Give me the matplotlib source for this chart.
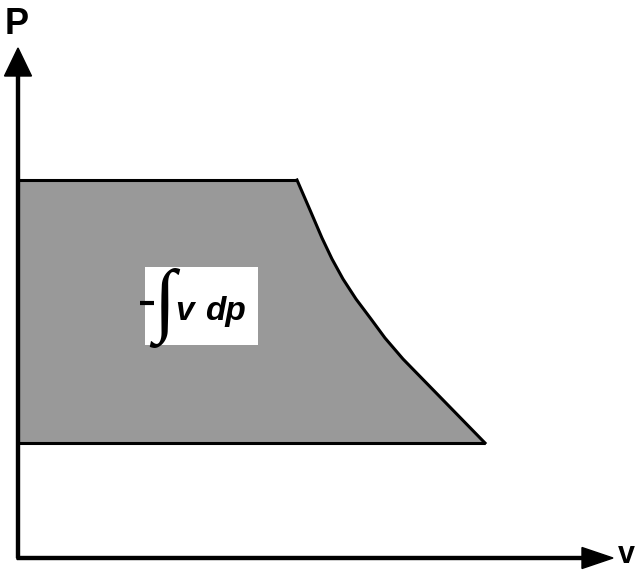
import matplotlib
matplotlib.use("Agg")
import matplotlib.pyplot as plt
from matplotlib.patches import Rectangle

# process path in the p-v plane (arbitrary units)
v_top = [0.0, 2.79]
p_top = [3.78, 3.78]
v_curve = [2.79, 2.92, 3.04, 3.14, 3.25, 3.38, 3.53, 3.67, 3.85, 4.67]
p_curve = [3.78, 3.48, 3.20, 2.99, 2.79, 2.59, 2.39, 2.20, 1.99, 1.15]
v_bottom = [0.0, 4.67]
p_bottom = [1.15, 1.15]

fig = plt.figure(figsize=(6.4, 5.71), dpi=100)
ax = fig.add_axes([0, 0, 1, 1])
ax.set_xlim(-0.18, 6.22)
ax.set_ylim(-0.13, 5.58)
ax.axis("off")

# shaded area
fill_v = v_top + v_curve[1:] + v_bottom[::-1]
fill_p = p_top + p_curve[1:] + p_bottom[::-1]
ax.fill(fill_v, fill_p, color="#999999", lw=0)

ax.plot(v_top, p_top, color="black", lw=2.2, solid_capstyle="butt")
ax.plot(v_curve, p_curve, color="black", lw=2.2, solid_joinstyle="round")
ax.plot(v_bottom, p_bottom, color="black", lw=2.2, solid_capstyle="butt")

# axes arrows
ax.arrow(0, 0, 0, 5.10, width=0.03, head_width=0.27, head_length=0.28,
         length_includes_head=True, color="black")
ax.arrow(-0.01, 0, 5.96, 0, width=0.03, head_width=0.21, head_length=0.31,
         length_includes_head=True, color="black")
ax.text(-0.01, 5.33, "P", fontsize=26, fontweight="bold",
        family="Liberation Sans", ha="center", va="center")
ax.text(6.17, -0.05, "v", fontsize=22, fontweight="bold",
        family="Liberation Sans", ha="right", va="baseline")

# label box
ax.add_patch(Rectangle((1.27, 2.13), 1.13, 0.78, facecolor="white",
                       edgecolor="none", zorder=3))
ax.plot([1.22, 1.36], [2.55, 2.55], color="black", lw=3,
        solid_capstyle="butt", zorder=5)
ax.text(1.46, 2.50, "\u222b", fontsize=58, family="Liberation Serif",
        ha="center", va="center", zorder=4)
ax.text(1.57, 2.38, "v", fontsize=24, fontweight="bold", style="italic",
        family="Liberation Sans", ha="left", va="baseline", zorder=4)
ax.text(1.87, 2.38, "dp", fontsize=24, fontweight="bold", style="italic",
        family="Liberation Sans", ha="left", va="baseline", zorder=4)

fig.savefig("out.png", dpi=100)
